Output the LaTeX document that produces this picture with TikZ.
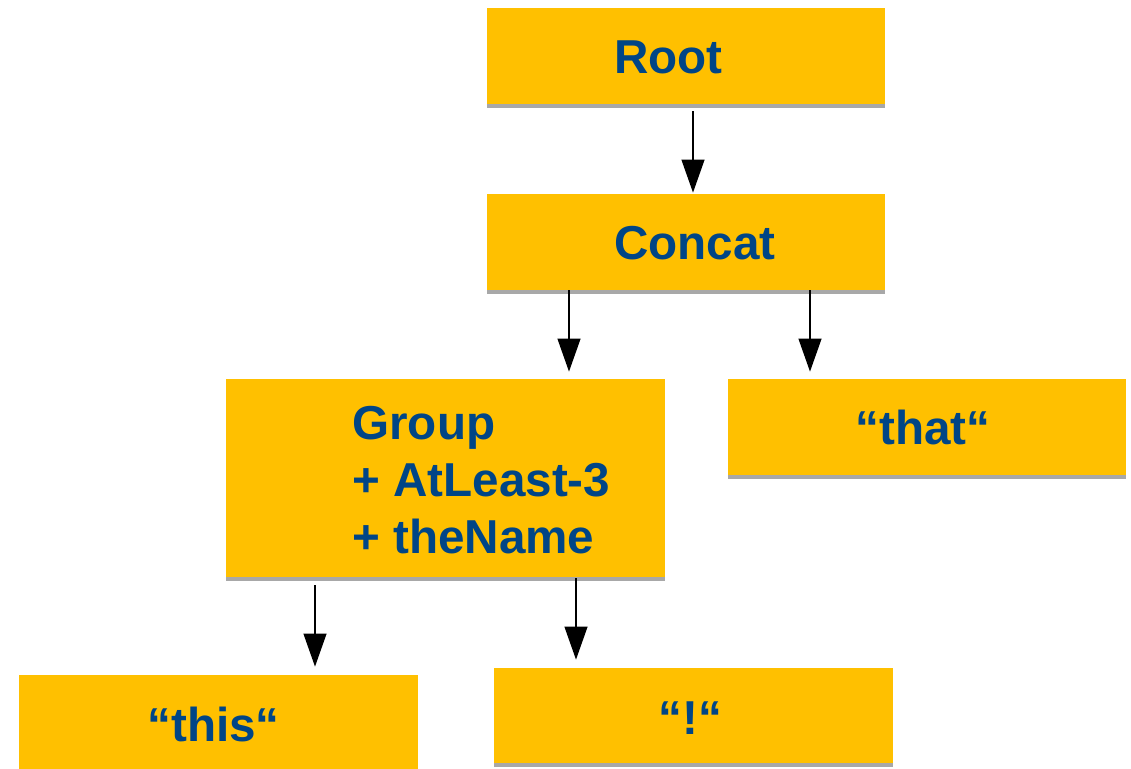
\documentclass[tikz,border=0pt]{standalone}
\usepackage{fontspec}
\setmainfont{Liberation Sans}
\usetikzlibrary{arrows.meta,shadows}

\definecolor{boxfill}{RGB}{255,192,0}
\definecolor{boxshade}{RGB}{168,168,168}
\definecolor{txtblue}{RGB}{0,69,134}

\tikzset{>={Triangle[width=11.5pt,length=16.5pt]},
  every node/.style={font=\fontsize{23.8}{28.5}\selectfont\bfseries,text=txtblue},
  box/.style={fill=boxfill,inner sep=0pt,minimum width=199pt,minimum height=48pt,
    drop shadow={shadow xshift=0pt,shadow yshift=-2pt,fill=boxshade,opacity=1}},
  lbl/.style={anchor=base west,inner sep=0pt},
  arr/.style={->,line width=0.6pt}}

\begin{document}
\begin{tikzpicture}[x=0.5pt,y=-0.5pt]
    \useasboundingbox (0,0) rectangle (1131,769);
    % boxes
    \node[box] (root) at (686,56) {};
    \node[box] (concat) at (686,242) {};
    \node[box,minimum width=219.5pt,minimum height=99pt] (group) at (445.5,478) {};
    \node[box] (that) at (927,427) {};
    \node[box,minimum width=199.5pt] (this) at (218.5,723) {};
    \node[box,minimum width=199.5pt,minimum height=47.5pt] (bang) at (693.5,715.5) {};
    % texts
    \node[lbl] (rootlbl) at (614,74) {Root};
    \node[lbl] (concatlbl) at (614,260) {Concat};
    \node[anchor=west,inner sep=0pt,align=left] (grouplbl) at (352,480)
        {Group\\+ AtLeast-3\\+ theName};
    \node[lbl] (thatlbl) at (855,445) {“that“};
    \node[lbl] (thislbl) at (147,742) {“this“};
    \node[anchor=base,inner sep=0pt] (banglbl) at (690.5,735) {“!“};
    % arrows
    \draw[arr] ([shift={(7,7)}]root.south) -- ([shift={(7,-1)}]concat.north);
    \draw[arr] ([shift={(-117,0)}]concat.south) -- ([shift={(123.5,-7)}]group.north);
    \draw[arr] ([shift={(124,0)}]concat.south) -- ([shift={(-117,-7)}]that.north);
    \draw[arr] ([shift={(-130.5,8)}]group.south) -- ([shift={(96.5,-8)}]this.north);
    \draw[arr] ([shift={(130.5,1)}]group.south) -- ([shift={(-117.5,-8)}]bang.north);
\end{tikzpicture}
\end{document}
